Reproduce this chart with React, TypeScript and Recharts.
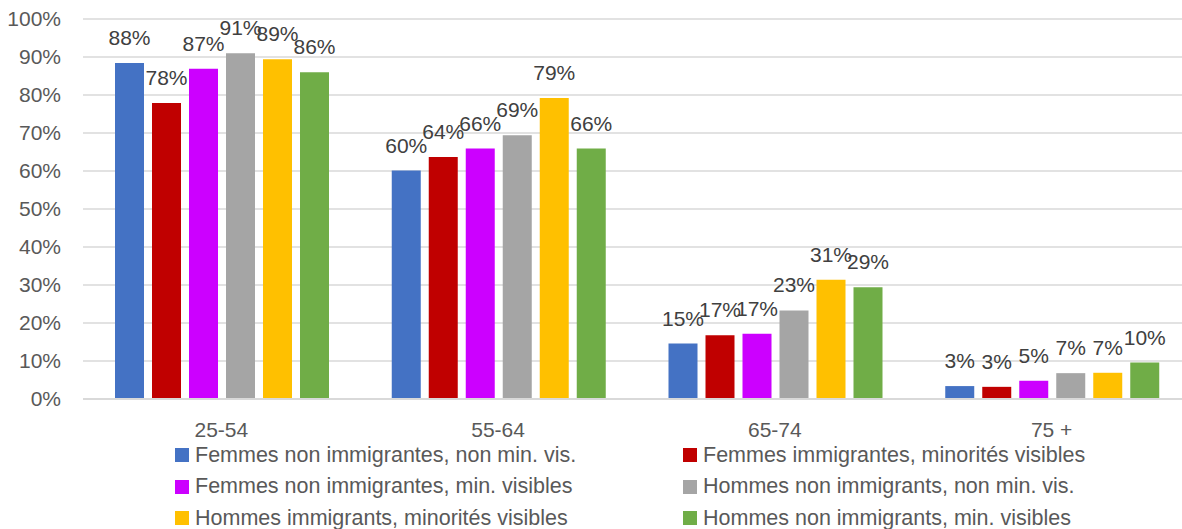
import React from "react";
import { Bar, BarChart, CartesianGrid, LabelList, XAxis, YAxis } from "recharts";

const groups = ["25-54", "55-64", "65-74", "75 +"];

const femNonImmNonMin = [88.4, 60.1, 14.6, 3.4];
const femImmMin = [77.9, 63.7, 16.8, 3.2];
const femNonImmMin = [86.9, 65.9, 17.2, 4.8];
const homNonImmNonMin = [91.0, 69.4, 23.3, 6.8];
const homImmMin = [89.4, 79.2, 31.4, 6.9];
const homNonImmMin = [86.0, 65.9, 29.4, 9.6];

const yTicks = [0, 10, 20, 30, 40, 50, 60, 70, 80, 90, 100];

const series = [
  { key: "s1", name: "Femmes non immigrantes, non min. vis.", color: "#4472C4", values: femNonImmNonMin },
  { key: "s2", name: "Femmes immigrantes, minorités visibles", color: "#C00000", values: femImmMin },
  { key: "s3", name: "Femmes non immigrantes, min. visibles", color: "#CC00FF", values: femNonImmMin },
  { key: "s4", name: "Hommes non immigrants, non min. vis.", color: "#A5A5A5", values: homNonImmNonMin },
  { key: "s5", name: "Hommes immigrants, minorités visibles", color: "#FFC000", values: homImmMin },
  { key: "s6", name: "Hommes non immigrants, min. visibles", color: "#70AD47", values: homNonImmMin },
];

const data = groups.map((g, i) => {
  const row: Record<string, any> = { group: g };
  series.forEach((s) => {
    row[s.key] = s.values[i];
  });
  return row;
});

const FONT = "'Liberation Sans', Arial, sans-serif";

export default function App() {
  return (
    <div
      style={{
        position: "absolute",
        left: 0,
        top: 0,
        width: 1182,
        height: 529,
        overflow: "hidden",
        background: "#fff",
        fontFamily: FONT,
      }}
    >
      <BarChart
        width={1190}
        height={529}
        data={data}
        margin={{ top: 19, right: 0, left: 0, bottom: 80 }}
        barCategoryGap={32}
        barGap={8}
      >
        <CartesianGrid vertical={false} stroke="#D9D9D9" strokeWidth={1.5} />
        <XAxis
          dataKey="group"
          axisLine={{ stroke: "#D9D9D9", strokeWidth: 2 }}
          tickLine={false}
          tickSize={0}
          tickMargin={23}
          height={50}
          tick={{ fill: "#595959", fontSize: 21, fontFamily: FONT }}
        />
        <YAxis
          width={83}
          domain={[0, 100]}
          ticks={yTicks}
          axisLine={false}
          tickLine={false}
          tickSize={0}
          tickMargin={22}
          tickFormatter={(v) => `${v}%`}
          tick={{ fill: "#595959", fontSize: 21, fontFamily: FONT }}
        />
        {series.map((s) => (
          <Bar key={s.key} dataKey={s.key} name={s.name} fill={s.color} isAnimationActive={false}>
            <LabelList
              dataKey={s.key}
              position="top"
              offset={18}
              formatter={(v: any) => `${Math.round(Number(v))}%`}
              style={{ fill: "#404040", fontSize: 21, fontFamily: FONT }}
            />
          </Bar>
        ))}
      </BarChart>
      {series.map((s, i) => {
        const col = i % 2;
        const row = Math.floor(i / 2);
        return (
          <div
            key={s.key}
            style={{
              position: "absolute",
              left: col === 0 ? 175 : 683,
              top: 443 + row * 31.5,
              height: 24,
              display: "flex",
              alignItems: "center",
              whiteSpace: "nowrap",
              fontSize: 21.5,
              color: "#595959",
            }}
          >
            <span style={{ width: 14, height: 14, background: s.color, marginRight: 6, display: "inline-block", flexShrink: 0 }} />
            <span>{s.name}</span>
          </div>
        );
      })}
    </div>
  );
}
